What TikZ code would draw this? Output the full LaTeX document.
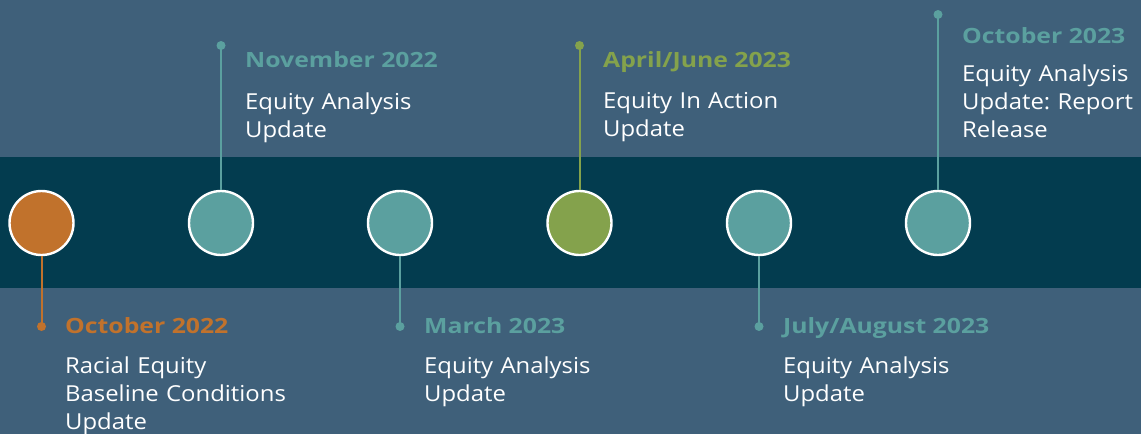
\documentclass[tikz,border=0pt]{standalone}
\usepackage{fontspec}
\setmainfont{Open Sans}
\newfontfamily\bodyfont{Open Sans}[FakeStretch=1.085]
\newfontfamily\titlefont{Open Sans}[FakeStretch=1.18]
\definecolor{bg}{RGB}{63,96,122}
\definecolor{band}{RGB}{3,60,79}
\definecolor{corange}{RGB}{193,114,44}
\definecolor{cteal}{RGB}{91,160,159}
\definecolor{cgreen}{RGB}{132,162,76}
\begin{document}
\frenchspacing
\begin{tikzpicture}[x=1pt,y=-1pt,
  milestone/.style={circle,draw=white,line width=2.4pt,minimum size=64pt,inner sep=0pt},
  pin/.style={circle,inner sep=0pt,minimum size=9pt},
  stem/.style={line width=2pt},
  title/.style={anchor=base west,inner sep=0pt,font=\titlefont\fontsize{21}{24}\bfseries\selectfont},
  body/.style={anchor=base west,inner sep=0pt,text width=240pt,align=left,text=white,font=\bodyfont\fontsize{22}{28}\selectfont}]
\fill[bg] (0,0) rectangle (1141,434);
\useasboundingbox (0,0) rectangle (1141,434);
\fill[band] (0,157) rectangle (1141,288);
% circles
\node[milestone,fill=corange] (c1) at (41.5,223) {};
\node[milestone,fill=cteal] (c2) at (221,223) {};
\node[milestone,fill=cteal] (c3) at (400,223) {};
\node[milestone,fill=cgreen] (c4) at (579.5,223) {};
\node[milestone,fill=cteal] (c5) at (759,223) {};
\node[milestone,fill=cteal] (c6) at (938,223) {};
% pins
\node[pin,fill=corange] (p1) at (41.5,326.5) {};
\node[pin,fill=cteal] (p2) at (221,45.5) {};
\node[pin,fill=cteal] (p3) at (400,326.5) {};
\node[pin,fill=cgreen] (p4) at (579.5,45.5) {};
\node[pin,fill=cteal] (p5) at (759,326.5) {};
\node[pin,fill=cteal] (p6) at (938,14.5) {};
\draw[stem,corange] (c1.south) -- (p1.center);
\draw[stem,cteal] (c2.north) -- (p2.center);
\draw[stem,cteal] (c3.south) -- (p3.center);
\draw[stem,cgreen] (c4.north) -- (p4.center);
\draw[stem,cteal] (c5.south) -- (p5.center);
\draw[stem,cteal] (c6.north) -- (p6.center);
% labels
\node[title,text=corange] (t1) at (65,333) {October 2022};
\node[body] (b1) at (65,373) {Racial Equity\\Baseline Conditions\\Update};
\node[title,text=cteal] (t2) at (245,67) {November 2022};
\node[body] (b2) at (245,109) {Equity Analysis\\Update};
\node[title,text=cteal] (t3) at (424,333) {March 2023};
\node[body] (b3) at (424,373) {Equity Analysis\\Update};
\node[title,text=cgreen] (t4) at (603,67) {April/June 2023};
\node[body] (b4) at (603,108) {Equity In Action\\Update};
\node[title,text=cteal] (t5) at (783,333) {July/August 2023};
\node[body] (b5) at (783,373) {Equity Analysis\\Update};
\node[title,text=cteal] (t6) at (962,43) {October 2023};
\node[body] (b6) at (962,81) {Equity Analysis\\Update: Report\\Release};
\end{tikzpicture}
\end{document}
